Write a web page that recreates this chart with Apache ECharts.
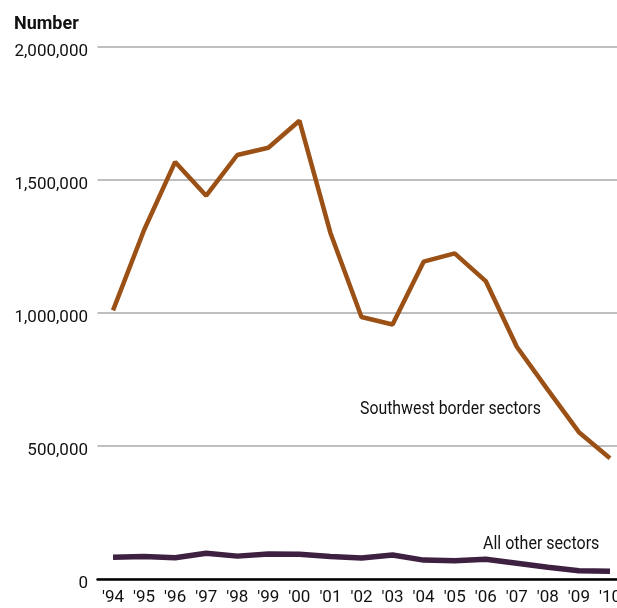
<!DOCTYPE html>
<html>
<head>
<meta charset="utf-8">
<script src="https://cdn.jsdelivr.net/npm/echarts@6/dist/echarts.min.js"></script>
<style>
html,body{margin:0;padding:0;background:#fff;overflow:hidden;}
#chart{width:626px;height:608px;}
</style>
</head>
<body>
<div id="chart"></div>
<script>
var years = ["'94","'95","'96","'97","'98","'99","'00","'01","'02","'03","'04","'05","'06","'07","'08","'09","'10"];
var southwest = [1010000, 1312000, 1568000, 1441000, 1594000, 1621000, 1723000, 1301000, 985000, 957000, 1193000, 1224000, 1120000, 873000, 711000, 552000, 454000];
var otherSectors = [81600, 85000, 80000, 96600, 86000, 94000, 93000, 85000, 79000, 90000, 71000, 69000, 74000, 59000, 44000, 31000, 29000];
var yTicks = [0, 500000, 1000000, 1500000, 2000000];

var FONT = 'Roboto, "DejaVu Sans Condensed", sans-serif';
var chart = echarts.init(document.getElementById('chart'), null, {renderer: 'canvas'});
chart.setOption({
  animation: false,
  backgroundColor: '#fff',
  textStyle: {fontFamily: FONT},
  title: {
    text: 'Number', left: 14, top: 15, padding: 0,
    textStyle: {fontFamily: FONT, fontWeight: 'bold', fontSize: 18, color: '#111'}
  },
  grid: {left: 97.5, right: 0.5, top: 47, bottom: 29, containLabel: false},
  xAxis: {
    type: 'category', data: years, boundaryGap: true,
    axisLine: {show: true, lineStyle: {color: '#000', width: 2.5}},
    axisTick: {show: false},
    axisLabel: {fontFamily: FONT, fontSize: 17, color: '#111', margin: 10, interval: 0}
  },
  yAxis: {
    type: 'value', min: yTicks[0], max: yTicks[yTicks.length - 1], interval: 500000,
    axisLine: {show: false}, axisTick: {show: false},
    splitLine: {show: true, lineStyle: {color: '#aaaaaa', width: 1.5}},
    axisLabel: {
      fontFamily: FONT, fontSize: 17, color: '#111', margin: 9.5,
      formatter: function (v) { return '{v|' + v.toLocaleString('en-US') + '}'; },
      rich: {v: {fontFamily: FONT, fontSize: 17, color: '#111', padding: [9, 0, 0, 0]}}
    }
  },
  series: [
    {
      name: 'Southwest border sectors', type: 'line', data: southwest,
      symbol: 'none', lineStyle: {color: '#9b5015', width: 4.5}, z: 3
    },
    {
      name: 'All other sectors', type: 'line', data: otherSectors,
      symbol: 'none', lineStyle: {color: '#3e2140', width: 5.5}, z: 3
    }
  ],
  graphic: [
    {type: 'text', left: 360, top: 400, scaleX: 0.88, style: {text: 'Southwest border sectors', font: '18px ' + FONT, fill: '#111'}},
    {type: 'text', left: 483, top: 535, scaleX: 0.89, style: {text: 'All other sectors', font: '18px ' + FONT, fill: '#111'}}
  ]
});
</script>
</body>
</html>
